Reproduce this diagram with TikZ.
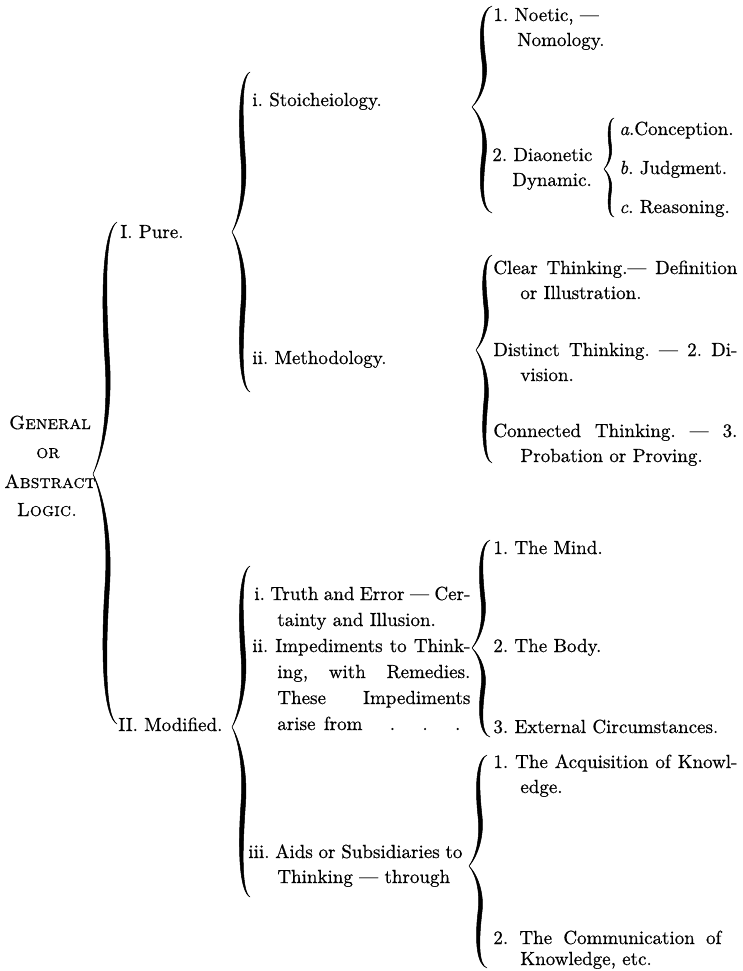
\documentclass[tikz,border=0pt]{standalone}
\usepackage{fontspec}
\newfontfamily\bookfont{lmroman10-regular}[Extension=.otf, ItalicFont=lmroman10-italic, FakeBold=0.6]
\newfontfamily\bookcaps{lmromancaps10-regular}[Extension=.otf, FakeBold=0.6]
\frenchspacing
\newcommand\halfbrace[5]{% #1 xh, #2 y end, #3 y tip, #4 w, #5 d
  \pgfmathsetmacro\hbh{#3-#2}%
  \filldraw[bracestyle] (#1,#2)
    .. controls ({#1-0.55*#4},{#2+0.03*(\hbh)}) and ({#1-0.7*#4},{#2+0.25*(\hbh)}) .. ({#1-0.5*#4},{#2+0.55*(\hbh)})
    .. controls ({#1-0.38*#4},{#2+0.72*(\hbh)}) and ({#1-0.55*#4},{#2+0.9*(\hbh)}) .. ({#1-#4},{#3})
    .. controls ({#1-0.55*#4+0.4*#5},{#2+0.9*(\hbh)}) and ({#1-0.38*#4+#5},{#2+0.72*(\hbh)}) .. ({#1-0.5*#4+#5},{#2+0.55*(\hbh)})
    .. controls ({#1-0.7*#4+#5},{#2+0.25*(\hbh)}) and ({#1-0.55*#4+0.4*#5},{#2+0.03*(\hbh)}) .. (#1,#2) -- cycle;
}
% xh, ytop, ybottom, ytip, w, d
\newcommand\curlybrace[6]{\halfbrace{#1}{#2}{#4}{#5}{#6}\halfbrace{#1}{#3}{#4}{#5}{#6}}
% width given in picture pixels; text is set at 10pt and scaled by 1.9
\newcommand\spreadto[2]{\makebox[\dimexpr #1pt*10/19\relax][s]{#2}}
\begin{document}
\begin{tikzpicture}[x=1pt,y=-1pt,
  txt/.style={font=\bookfont\fontsize{10}{13}\selectfont\frenchspacing, scale=1.9, inner sep=0pt, anchor=base west},
  ctr/.style={font=\bookcaps\fontsize{10}{13}\selectfont\frenchspacing, scale=1.9, inner sep=0pt, anchor=base},
  bracestyle/.style={fill=black, draw=black, line width=0.5pt, line join=round}]
\fill[white] (0,0) rectangle (742,971);
\useasboundingbox (0,0) rectangle (742,971);

% ---- left title
\node[ctr] (gen) at (50,429) {General};
\node[ctr] (or) at (48,458) {or};
\node[ctr] (abs) at (50,488) {Abstract};
\node[ctr] (log) at (47,516) {Logic.};

% ---- first level
\node[txt] (pure) at (120,238) {I. Pure.};
\node[txt] (mod) at (118,731) {II. Modified.};

% ---- second level (pure)
\node[txt] (stoi) at (252,106) {i. Stoicheiology.};
\node[txt] (meth) at (252,364) {ii. Methodology.};

% ---- third level (stoicheiology)
\node[txt] (noe1) at (493,21) {1. Noetic, \textemdash};
\node[txt] (noe2) at (517,46) {Nomology.};
\node[txt] (dia1) at (492,161) {2. Diaonetic};
\node[txt] (dia2) at (512,186) {Dynamic.};
\node[txt] (conc) at (619,135) {\textit{a}.Conception.};
\node[txt] (judg) at (619,174) {\textit{b}. Judgment.};
\node[txt] (reas) at (619,213) {\textit{c}. Reasoning.};

% ---- third level (methodology)
\node[txt] (cl1) at (493,274) {\spreadto{244}{Clear Thinking.\textemdash{} Definition}};
\node[txt] (cl2) at (520,299) {or Illustration.};
\node[txt] (di1) at (493,356) {\spreadto{244}{Distinct Thinking. \textemdash{} 2. Di-}};
\node[txt] (di2) at (520,381) {vision.};
\node[txt] (co1) at (493,437) {\spreadto{244}{Connected Thinking. \textemdash{} 3.}};
\node[txt] (co2) at (520,462) {Probation or Proving.};

% ---- second level (modified)
\node[txt] (tr1) at (254,600) {\spreadto{216}{i. Truth and Error \textemdash{} Cer-}};
\node[txt] (tr2) at (277,626) {tainty and Illusion.};
\node[txt] (im1) at (252,652) {\spreadto{218}{ii. Impediments to Think-}};
\node[txt] (im2) at (277,678) {\spreadto{193}{ing, with Remedies.}};
\node[txt] (im3) at (277,704) {\spreadto{193}{These Impediments}};
\node[txt] (im4) at (277,730) {\spreadto{183}{arise from \quad . \quad . \quad .}};
\node[txt] (ai1) at (248,858) {\spreadto{214}{iii. Aids or Subsidiaries to}};
\node[txt] (ai2) at (277,883) {Thinking \textemdash{} through};

% ---- third level (modified)
\node[txt] (mind) at (493,554) {1. The Mind.};
\node[txt] (body) at (493,652) {2. The Body.};
\node[txt] (ext) at (493,733) {3. External Circumstances.};
\node[txt] (acq1) at (493,768) {\spreadto{244}{1. The Acquisition of Knowl-}};
\node[txt] (acq2) at (520,793) {edge.};
\node[txt] (com1) at (493,944) {\spreadto{228}{2. The Communication of}};
\node[txt] (com2) at (520,965) {Knowledge, etc.};

% ---- braces: xh, ytop, ybottom, ytip, w, d
\curlybrace{117}{222}{724}{474}{24}{4.5}
\curlybrace{250}{72}{392}{232}{18}{4.5}
\curlybrace{492}{6}{213}{107}{20}{4}
\curlybrace{614}{118}{217}{169}{10}{2.5}
\curlybrace{492}{255}{463}{350}{16}{4}
\curlybrace{250}{566}{897}{727}{18}{4.5}
\curlybrace{490}{540}{737}{648}{18}{4}
\curlybrace{487}{755}{968}{866}{18}{4}
\end{tikzpicture}
\end{document}
